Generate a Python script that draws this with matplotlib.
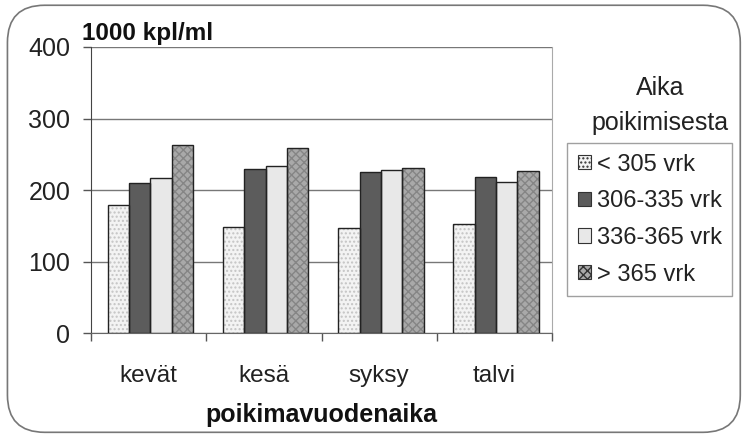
import matplotlib
matplotlib.use("Agg")
import matplotlib.pyplot as plt
import numpy as np
from matplotlib.patches import Patch, FancyBboxPatch

plt.rcParams['font.family'] = ['Liberation Sans', 'DejaVu Sans']

categories = ["kevät", "kesä", "syksy", "talvi"]
series_labels = ["< 305 vrk", "306-335 vrk", "336-365 vrk", "> 365 vrk"]
s1 = [179, 148, 147, 152]
s2 = [210, 229, 225, 218]
s3 = [217, 234, 228, 211]
s4 = [263, 259, 231, 226]
series = [s1, s2, s3, s4]
yticks = [0, 100, 200, 300, 400]

faces = ['#f3f3f3', '#5c5c5c', '#e8e8e8', '#a9a9a9']
hatches = ['....', None, None, 'xxxx']
hatch_cols = ['#c4c4c4', None, None, '#858585']

fig = plt.figure(figsize=(7.44, 4.38), dpi=100)
ax = fig.add_axes([0.1223, 0.2397, 0.6197, 0.653])

x = np.arange(len(categories))
w = 0.185
offsets = (np.arange(4) - 1.5) * w + 0.015
for i, vals in enumerate(series):
    ax.bar(x + offsets[i], vals, w, color=faces[i], edgecolor='none', zorder=2)
    if hatches[i]:
        ax.bar(x + offsets[i], vals, w, color='none', edgecolor=hatch_cols[i],
               hatch=hatches[i], linewidth=0, zorder=3)
    ax.bar(x + offsets[i], vals, w, color='none', edgecolor='#222222',
           linewidth=1.0, zorder=4)

ax.set_xlim(-0.5, 3.5)
ax.set_ylim(0, 400)
ax.set_yticks(yticks)
ax.set_yticklabels([str(v) for v in yticks], fontsize=18, color='#222222')
ax.yaxis.grid(True, color='#777777', linewidth=1.0, zorder=0)
ax.set_axisbelow(True)
ax.tick_params(axis='y', direction='out', length=6, width=1, color='#555555', pad=9)
ax.set_xticks(np.arange(-0.5, 4.0, 1.0))
ax.set_xticklabels([])
ax.set_xticks(x, minor=True)
ax.set_xticklabels(categories, minor=True, fontsize=17.5, color='#222222')
ax.tick_params(axis='x', which='major', direction='out', length=6, width=1, color='#555555')
ax.tick_params(axis='x', which='minor', length=0, pad=23)
ax.spines['top'].set_visible(False)
ax.spines['right'].set_color('#aaaaaa')
ax.spines['left'].set_color('#444444')
ax.spines['bottom'].set_color('#666666')

fig.text(321 / 744, 1 - 415 / 438, "poikimavuodenaika", fontsize=18, fontweight='bold',
         ha='center', va='center', color='#111111')
fig.text(82 / 744, 1 - 40 / 438, "1000 kpl/ml", fontsize=17.5, fontweight='bold',
         ha='left', va='baseline', color='#111111')

handles = []
for i in range(4):
    handles.append(Patch(facecolor=faces[i], edgecolor='#333333', hatch=hatches[i], linewidth=0.8))
leg = fig.legend(handles, series_labels, loc='upper left', bbox_to_anchor=(567 / 744, 1 - 143 / 438),
                 bbox_transform=fig.transFigure, fontsize=17, frameon=True, fancybox=False,
                 edgecolor='#888888', handlelength=0.55, handleheight=0.55, handletextpad=0.25,
                 labelspacing=0.62, borderpad=0.45, borderaxespad=0)
leg.get_frame().set_linewidth(1.0)
for t in leg.get_texts():
    t.set_color('#222222')

fig.text(660 / 744, 1 - 88 / 438, "Aika", fontsize=18, ha='center', va='center', color='#222222')
fig.text(660 / 744, 1 - 123 / 438, "poikimisesta", fontsize=18, ha='center', va='center', color='#222222')

border = FancyBboxPatch((0.010, 0.013), 0.985, 0.975, boxstyle="round,pad=0,rounding_size=0.05",
                        transform=fig.transFigure, facecolor='none', edgecolor='#777777',
                        linewidth=1.2, mutation_aspect=744 / 438)
fig.patches.append(border)

fig.savefig("out.png", dpi=100)
